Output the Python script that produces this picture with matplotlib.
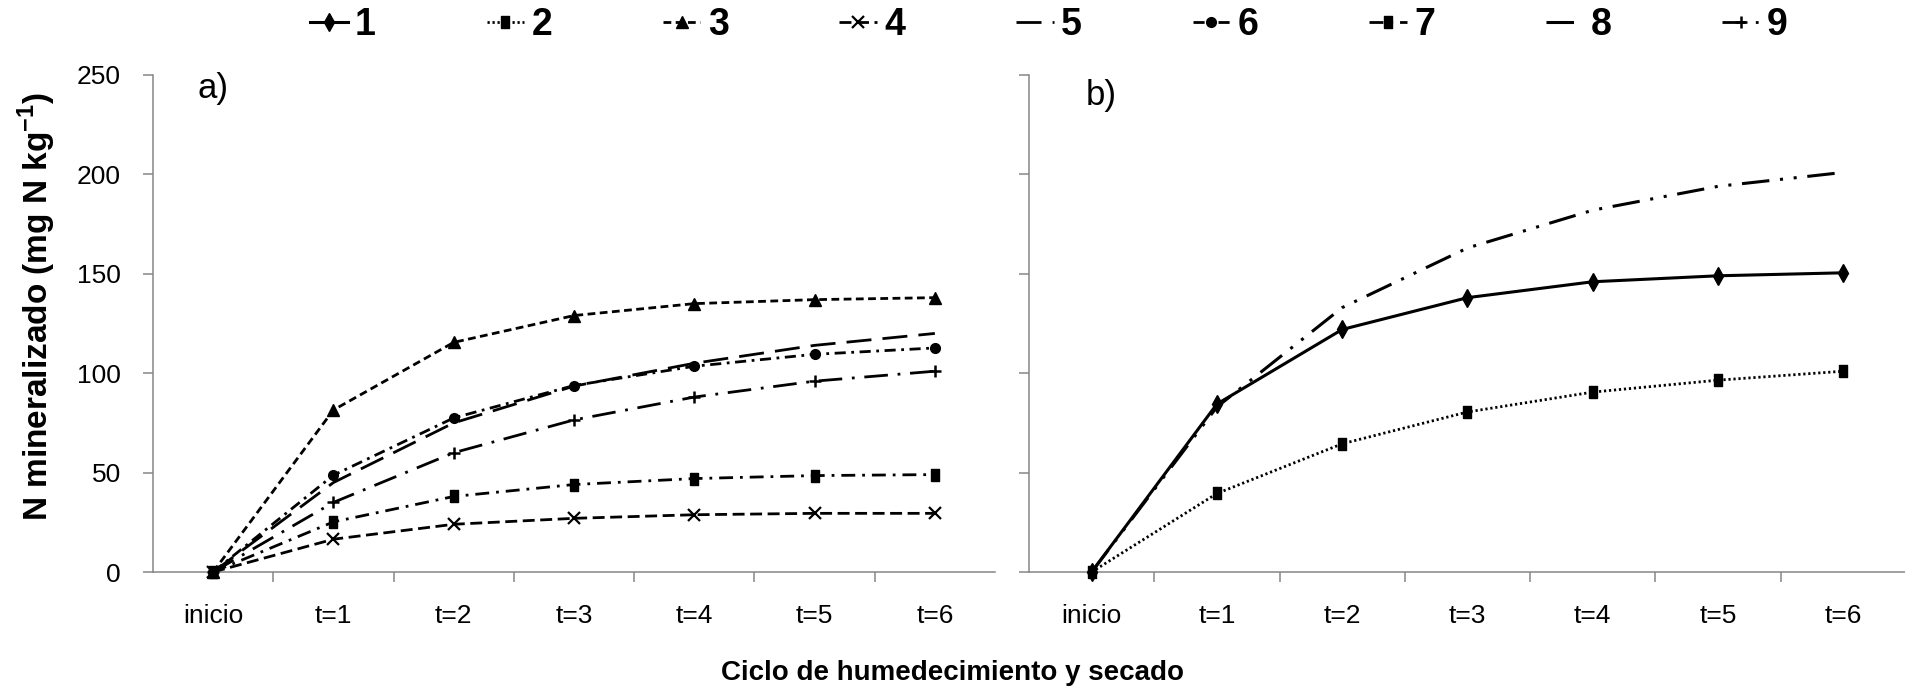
import numpy as np
import matplotlib
matplotlib.use("Agg")
from matplotlib import pyplot as plt
from matplotlib.lines import Line2D

plt.rcParams["font.family"] = ["Liberation Sans Narrow", "Liberation Sans", "DejaVu Sans"]
plt.rcParams["mathtext.fontset"] = "custom"
plt.rcParams["mathtext.rm"] = "Liberation Sans"
plt.rcParams["mathtext.bf"] = "Liberation Sans:bold"

categories = ["inicio", "t=1", "t=2", "t=3", "t=4", "t=5", "t=6"]

# panel a
s3 = [0, 81.5, 115.5, 129, 135, 137, 138]
s4 = [0, 16.5, 24, 27, 28.8, 29.5, 29.5]
s5 = [0, 45, 75, 93.5, 105, 114, 120]
s6 = [0, 48.7, 77.5, 93.8, 103.5, 109.5, 112.7]
s7 = [0, 25.2, 38, 44, 47, 48.5, 49]
s9 = [0, 35, 60, 76.5, 88, 96, 101]

# panel b
s1 = [0, 84.5, 122, 138, 146, 149, 150.5]
s2 = [0, 39.5, 64.5, 80.5, 90.5, 96.5, 101]
s8 = [0, 83, 133, 163, 182, 194, 201]

# tall rectangle marker
rect = [(-0.7, -1), (0.7, -1), (0.7, 1), (-0.7, 1), (-0.7, -1)]

styles = {
    "1": dict(ls="-", marker="d", ms=9, lw=2.2),
    "2": dict(ls=(0, (0.8, 1.0)), marker=rect, ms=9, lw=2.0),
    "3": dict(ls=(0, (2.8, 1.6)), marker="^", ms=8, lw=2.0),
    "4": dict(ls=(0, (4.3, 2.0)), marker="x", ms=8, lw=2.0, mew=1.6),
    "5": dict(ls=(0, (9, 4)), marker="None", lw=2.0),
    "6": dict(ls=(0, (4, 2, 1, 2)), marker="o", ms=7, lw=2.0),
    "7": dict(ls=(0, (5, 2.5, 1, 2.5)), marker=rect, ms=8, lw=2.0),
    "8": dict(ls=(0, (9, 3.5, 1, 3.5, 1, 3.5)), marker="None", lw=2.2),
    "9": dict(ls=(0, (8.5, 3.5, 1, 3.5)), marker="+", ms=9, lw=2.0, mew=1.8),
}

grey = "#868686"
x = np.arange(len(categories))

fig = plt.figure(figsize=(19.06, 6.97), dpi=100)
ax_a = fig.add_axes([153 / 1906, 125 / 697, 842 / 1906, 497 / 697])
ax_b = fig.add_axes([1029 / 1906, 125 / 697, 877 / 1906, 497 / 697])


def plot_series(ax, key, values):
    st = dict(styles[key])
    ax.plot(x, values, color="black", mfc="black", mec="black",
            clip_on=False, zorder=3, **st)


for key, vals in [("3", s3), ("4", s4), ("5", s5), ("6", s6), ("7", s7), ("9", s9)]:
    plot_series(ax_a, key, vals)
for key, vals in [("8", s8), ("2", s2), ("1", s1)]:
    plot_series(ax_b, key, vals)

for ax in (ax_a, ax_b):
    ax.set_xlim(-0.5, 6.5)
    ax.set_ylim(0, 250)
    ax.set_yticks([0, 50, 100, 150, 200, 250])
    for side in ("top", "right"):
        ax.spines[side].set_visible(False)
    for side in ("left", "bottom"):
        ax.spines[side].set_color(grey)
        ax.spines[side].set_linewidth(1.1)
    # category boundaries get the tick marks, labels sit at the centres
    ax.set_xticks(np.arange(0.5, 6.5, 1.0))
    ax.set_xticklabels([])
    ax.set_xticks(x, minor=True)
    ax.set_xticklabels(categories, minor=True)
    ax.tick_params(axis="x", which="major", direction="out", length=7,
                   width=1.1, color=grey)
    ax.tick_params(axis="x", which="minor", length=0, pad=23, labelsize=19)
    ax.tick_params(axis="y", direction="out", length=7, width=1.1, color=grey,
                   pad=16, labelsize=19)
    ax.patch.set_visible(False)

ax_b.tick_params(axis="y", labelleft=False)

ax_a.text(0.053, 0.972, "a)", transform=ax_a.transAxes, fontsize=25,
          va="center", ha="left")
ax_b.text(0.065, 0.958, "b)", transform=ax_b.transAxes, fontsize=25,
          va="center", ha="left")

fig.text(37 / 1906, 1 - 307 / 697,
         r"N mineralizado (mg N kg$^{\mathbf{-1}}$)",
         rotation=90, va="center", ha="center", fontsize=24,
         fontweight="bold", family=["Liberation Sans", "DejaVu Sans"])
fig.text(0.5, 1 - 673 / 697, "Ciclo de humedecimiento y secado",
         ha="center", va="center", fontsize=20, fontweight="bold")

handles = []
labels = [str(i) for i in range(1, 10)]
for key in labels:
    st = dict(styles[key])
    handles.append(Line2D([], [], color="black", mfc="black", mec="black", **st))

fig.legend(handles, labels, ncol=9, loc="center", frameon=False,
           bbox_to_anchor=(1049 / 1906, 1 - 25 / 697),
           prop=dict(weight="bold", size=27),
           handlelength=1.0, handletextpad=0.2, columnspacing=2.95)

fig.savefig("out.png", dpi=100)
